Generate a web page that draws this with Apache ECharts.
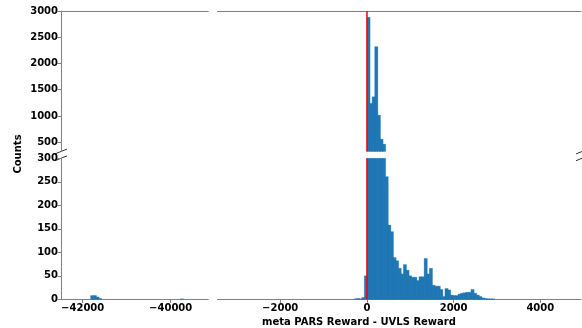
<!DOCTYPE html>
<html><head><meta charset="utf-8">
<script src="https://cdn.jsdelivr.net/npm/echarts@6/dist/echarts.min.js"></script>
<style>html,body{margin:0;padding:0;background:#fff}#c{width:582px;height:328px}</style>
</head><body><div id="c"></div>
<script>
// ---- data ----
const binWidth = 60;
const mainBinStart = -300;
const mainCounts = [1, 2, 1, 4, 50,
  2880, 1240, 1365, 2320, 1015, 557, 462,
  261, 158, 144, 89, 82, 66, 54, 74, 62, 50, 47, 47, 40, 48, 48, 87, 54, 66,
  30, 28, 28, 21, 6, 23, 20, 9, 8, 8, 11, 13, 14, 15, 15, 21, 13, 9, 6, 3, 2, 1, 1, 1];
const farBinStart = -41820;
const farCounts = [8, 8, 5, 2];
const outlierBinStarts = [-39780];
const outlierCounts = [1];
const leftXTicks = [-42000, -40000];
const rightXTicks = [-2000, 0, 2000, 4000];
const topYTicks = [500, 1000, 1500, 2000, 2500, 3000];
const bottomYTicks = [0, 50, 100, 150, 200, 250, 300];
const xLabel = 'meta PARS Reward - UVLS Reward';
const yLabel = 'Counts';

// ---- layout ----
const LX = 61, LW = 147.3, RX = 217.5, RW = 363.5;
const TY = 11, TH = 140.5, BY = 158.3, BH = 141;
const leftRange = [-42493, -39145];
const rightRange = [-3446, 4939];
const topRange = [322, 3000];
const bottomRange = [0, 300];

function makeBins(start, counts) {
  return counts.map((c, i) => [start + i * binWidth, start + (i + 1) * binWidth, c]);
}
const mainBins = makeBins(mainBinStart, mainCounts);
const farBins = makeBins(farBinStart, farCounts).concat(
  outlierBinStarts.map((s, i) => [s, s + binWidth, outlierCounts[i]]));

const spine = '#808080';
const barColor = '#1f77b4';
const fontFam = '"DejaVu Sans", sans-serif';
const minus = v => String(v).replace('-', '\u2212');

function xAxis(grid, range, ticks, bottom) {
  return {
    type: 'value', gridIndex: grid, min: range[0], max: range[1],
    position: bottom ? 'bottom' : 'top',
    splitLine: { show: false },
    axisLine: { show: true, onZero: false, lineStyle: { color: spine, width: 1 } },
    axisTick: { show: bottom, customValues: ticks, length: 3.5, lineStyle: { color: spine } },
    axisLabel: { show: bottom, customValues: ticks, formatter: minus, margin: 4,
      color: '#000', fontFamily: fontFam, fontWeight: 'bold', fontSize: 10 }
  };
}
function yAxis(grid, range, ticks, left) {
  return {
    type: 'value', gridIndex: grid, min: range[0], max: range[1],
    splitLine: { show: false },
    axisLine: { show: left, onZero: false, lineStyle: { color: spine, width: 1 } },
    axisTick: { show: left, customValues: ticks, length: 3.5, lineStyle: { color: spine } },
    axisLabel: { show: left, customValues: ticks, margin: 3, formatter: minus,
      color: '#000', fontFamily: fontFam, fontWeight: 'bold', fontSize: 10 }
  };
}
function renderFor(xr, yr) {
  return function (params, api) {
    const x0 = api.value(0), x1 = api.value(1), c = api.value(2);
    if (c <= yr[0] || x1 < xr[0] || x0 > xr[1]) return null;
    const top = Math.min(c, yr[1]);
    const p0 = api.coord([Math.max(x0, xr[0]), top]);
    const p1 = api.coord([Math.min(x1, xr[1]), yr[0]]);
    return { type: 'rect',
      shape: { x: p0[0], y: p0[1], width: p1[0] - p0[0] + 0.6, height: p1[1] - p0[1] },
      style: { fill: barColor, stroke: barColor, lineWidth: 0.3 } };
  };
}
function barSeries(idx, bins, xr, yr, withLine) {
  const s = {
    type: 'custom', xAxisIndex: idx, yAxisIndex: idx, data: bins,
    encode: { x: [0, 1], y: 2 }, renderItem: renderFor(xr, yr), silent: true
  };
  if (withLine) {
    s.markLine = { silent: true, symbol: ['none', 'none'], animation: false,
      label: { show: false }, lineStyle: { color: '#ff0000', width: 1.5, type: 'solid' },
      data: [{ xAxis: 0 }] };
  }
  return s;
}

const chart = echarts.init(document.getElementById('c'), null, { renderer: 'canvas' });
chart.setOption({
  animation: false,
  backgroundColor: '#fff',
  grid: [
    { left: LX, top: TY, width: LW, height: TH },
    { left: RX, top: TY, width: RW, height: TH },
    { left: LX, top: BY, width: LW, height: BH },
    { left: RX, top: BY, width: RW, height: BH }
  ],
  xAxis: [
    xAxis(0, leftRange, leftXTicks, false),
    xAxis(1, rightRange, rightXTicks, false),
    xAxis(2, leftRange, leftXTicks, true),
    xAxis(3, rightRange, rightXTicks, true)
  ],
  yAxis: [
    yAxis(0, topRange, topYTicks, true),
    yAxis(1, topRange, topYTicks, false),
    yAxis(2, bottomRange, bottomYTicks, true),
    yAxis(3, bottomRange, bottomYTicks, false)
  ],
  series: [
    barSeries(0, farBins, leftRange, topRange, false),
    barSeries(1, mainBins, rightRange, topRange, true),
    barSeries(2, farBins, leftRange, bottomRange, false),
    barSeries(3, mainBins, rightRange, bottomRange, true)
  ],
  graphic: [
    { type: 'text', x: 18, y: 154, rotation: Math.PI / 2,
      style: { text: yLabel, font: 'bold 10px ' + fontFam, fill: '#000', align: 'center', verticalAlign: 'middle' } },
    { type: 'text', x: 359, y: 322,
      style: { text: xLabel, font: 'bold 10px ' + fontFam, fill: '#000', align: 'center', verticalAlign: 'middle' } },
    { type: 'line', shape: { x1: LX - 6, y1: TY + TH + 2.4, x2: LX + 6, y2: TY + TH - 2.4 }, style: { stroke: '#333', lineWidth: 1 } },
    { type: 'line', shape: { x1: LX - 6, y1: BY + 2.4, x2: LX + 6, y2: BY - 2.4 }, style: { stroke: '#333', lineWidth: 1 } },
    { type: 'line', shape: { x1: RX + RW - 5, y1: TY + TH + 2.4, x2: RX + RW + 7, y2: TY + TH - 2.4 }, style: { stroke: '#333', lineWidth: 1 } },
    { type: 'line', shape: { x1: RX + RW - 5, y1: BY + 2.4, x2: RX + RW + 7, y2: BY - 2.4 }, style: { stroke: '#333', lineWidth: 1 } }
  ]
});
</script>
</body></html>
